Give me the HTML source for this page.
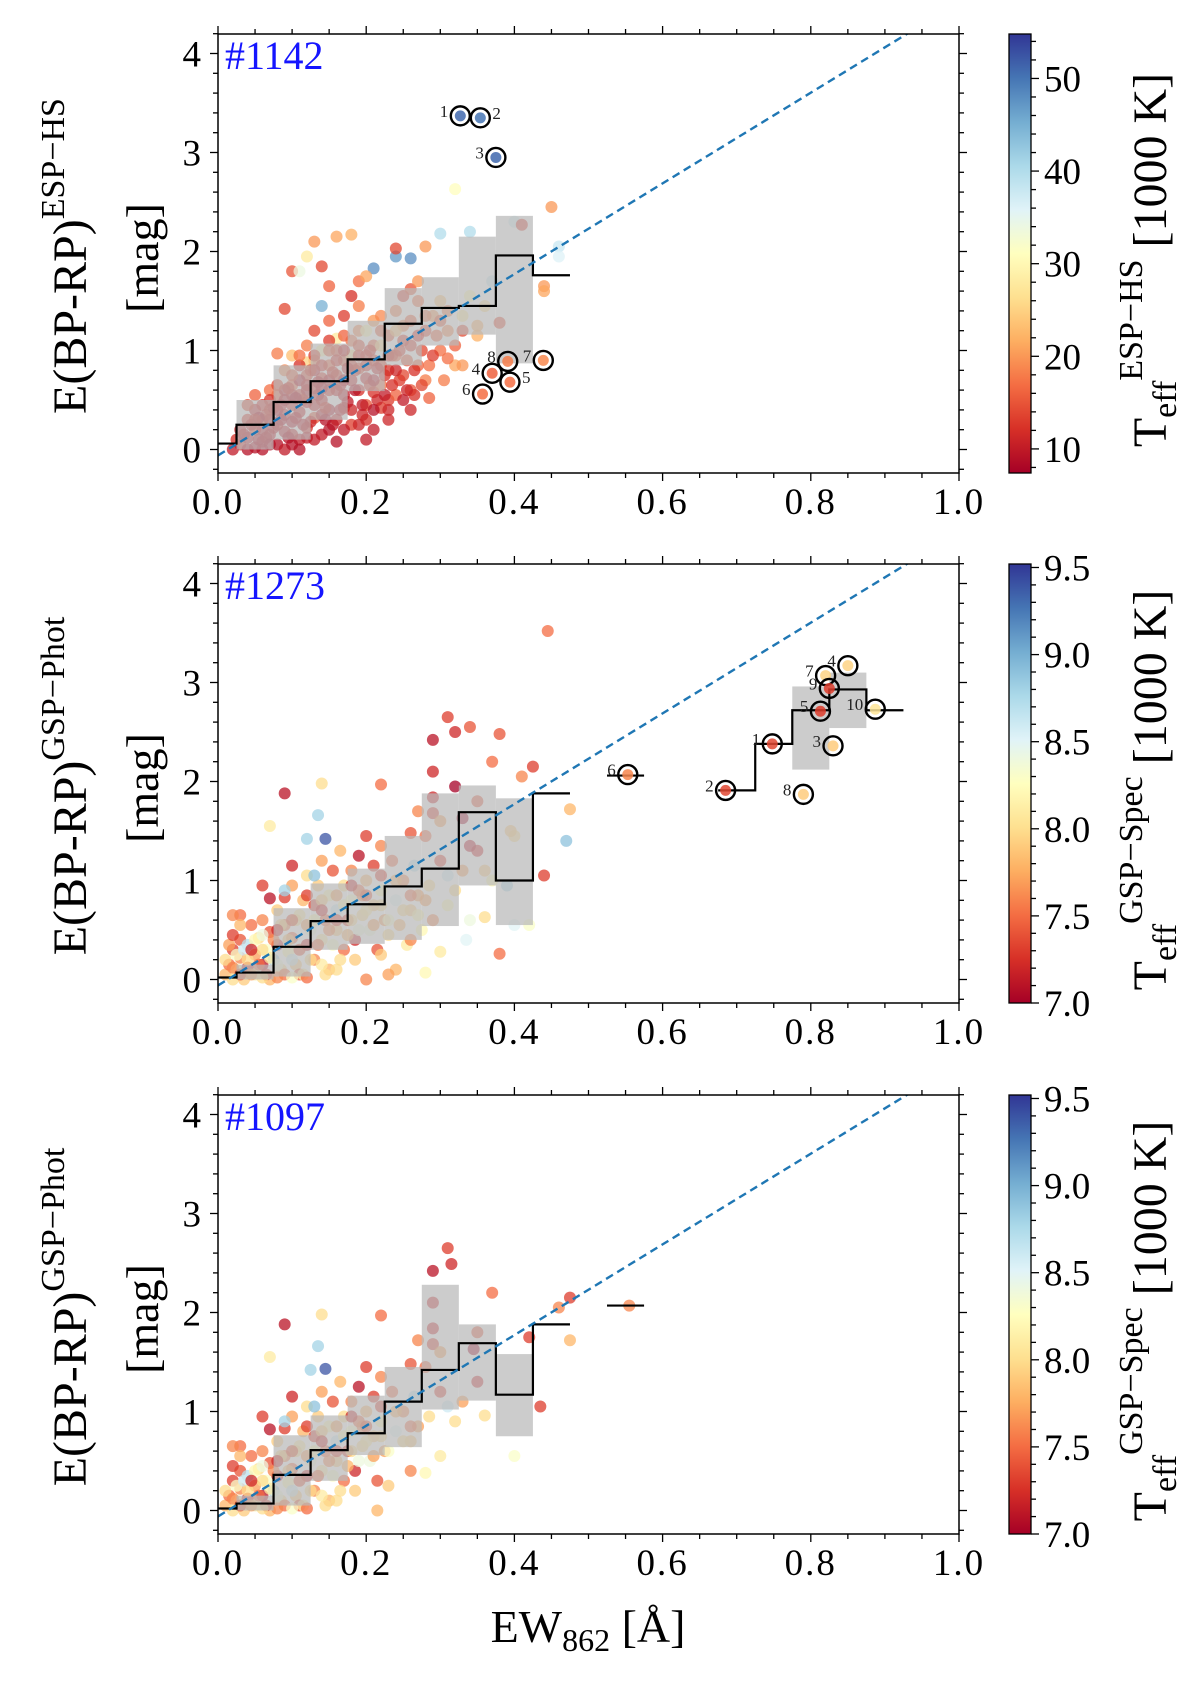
<!DOCTYPE html>
<html>
<head>
<meta charset="utf-8">
<style>
html,body{margin:0;padding:0;background:#fff;}
svg{display:block;font-family:"Liberation Serif",serif;}
</style>
</head>
<body>
<svg id="fig" width="1200" height="1681" viewBox="0 0 1200 1681" xmlns="http://www.w3.org/2000/svg">
<defs>
<linearGradient id="rdylbu" x1="0" y1="1" x2="0" y2="0">
<stop offset="0" stop-color="#a50026"/><stop offset="0.1" stop-color="#d73027"/><stop offset="0.2" stop-color="#f46d43"/><stop offset="0.3" stop-color="#fdae61"/><stop offset="0.4" stop-color="#fee090"/><stop offset="0.5" stop-color="#ffffbf"/><stop offset="0.6" stop-color="#e0f3f8"/><stop offset="0.7" stop-color="#abd9e9"/><stop offset="0.8" stop-color="#74add1"/><stop offset="0.9" stop-color="#4575b4"/><stop offset="1" stop-color="#313695"/>
</linearGradient>
</defs>
</svg>
<script>
// ---------- data ----------
const panelTops = [34, 564, 1095];
const panelTags = ["#1142", "#1273", "#1097"];
const xTicks = [0, 0.2, 0.4, 0.6, 0.8, 1.0];
const xTickLabels = ["0.0", "0.2", "0.4", "0.6", "0.8", "1.0"];
const yTicks = [0, 1, 2, 3, 4];
const yTickLabels = ["0", "1", "2", "3", "4"];
const cb1Range = [7.4, 54.8];
const cb1Ticks = [10, 20, 30, 40, 50];
const cb2Range = [7.0, 9.52];
const cb2Ticks = [7.0, 7.5, 8.0, 8.5, 9.0, 9.5];
const cb2TickLabels = ["7.0", "7.5", "8.0", "8.5", "9.0", "9.5"];
const fitIntercept = -0.06;
const fitSlope = 4.58;

const p1BinX = [0, 0.05, 0.1, 0.15, 0.2, 0.25, 0.3, 0.35, 0.4, 0.45];
const p1BinMed = [0.06, 0.25, 0.48, 0.69, 0.91, 1.27, 1.43, 1.45, 1.96, 1.76];
const p1BandX = [0.05, 0.1, 0.15, 0.2, 0.25, 0.3, 0.35, 0.4];
const p1BandLo = [0.0, 0.1, 0.3, 0.59, 0.85, 1.05, 1.16, 0.87];
const p1BandHi = [0.5, 0.85, 1.07, 1.3, 1.63, 1.74, 2.15, 2.36];

const p2BinX = [0, 0.05, 0.1, 0.15, 0.2, 0.25, 0.3, 0.35, 0.4, 0.45, 0.55, 0.7, 0.75, 0.8, 0.85, 0.9];
const p2BinMed = [0.02, 0.07, 0.33, 0.59, 0.76, 0.94, 1.12, 1.69, 1.0, 1.88, 2.06, 1.91, 2.38, 2.72, 2.93, 2.72];
const p2BandX = [0.05, 0.1, 0.15, 0.2, 0.25, 0.3, 0.35, 0.4, 0.8, 0.85];
const p2BandLo = [0.0, 0.03, 0.3, 0.36, 0.4, 0.54, 0.95, 0.55, 2.12, 2.54];
const p2BandHi = [0.15, 0.72, 0.97, 1.12, 1.45, 1.88, 1.96, 1.83, 2.96, 3.1];

const p3BinX = [0, 0.05, 0.1, 0.15, 0.2, 0.25, 0.3, 0.35, 0.4, 0.45, 0.55];
const p3BinMed = [0.02, 0.07, 0.36, 0.61, 0.78, 1.1, 1.42, 1.69, 1.17, 1.88, 2.07];
const p3BandX = [0.05, 0.1, 0.15, 0.2, 0.25, 0.3, 0.35, 0.4];
const p3BandLo = [0.0, 0.05, 0.3, 0.56, 0.64, 1.02, 1.11, 0.75];
const p3BandHi = [0.15, 0.76, 0.96, 1.16, 1.45, 2.28, 1.88, 1.58];

const p1Hx = [0.327, 0.354, 0.375, 0.37, 0.394, 0.357, 0.439, 0.391];
const p1Hy = [3.37, 3.35, 2.95, 0.77, 0.68, 0.56, 0.9, 0.89];
const p1Ht = [51, 50, 51, 16, 17, 17, 19, 18];
const p1Hlab = ["1", "2", "3", "4", "5", "6", "7", "8"];
const p1HlabSide = [-1, 1, -1, -1, 1, -1, -1, -1];

const p2Hx = [0.748, 0.685, 0.83, 0.85, 0.813, 0.553, 0.82, 0.79, 0.825, 0.887];
const p2Hy = [2.38, 1.91, 2.36, 3.17, 2.71, 2.07, 3.07, 1.87, 2.94, 2.73];
const p2Ht = [7.35, 7.35, 7.9, 7.95, 7.3, 7.6, 7.95, 7.9, 7.3, 8.05];
const p2Hlab = ["1", "2", "3", "4", "5", "6", "7", "8", "9", "10"];

const p1Points = [
[0.03,0.05,12],[0.04,0.12,10],[0.05,0.02,9],[0.05,0.2,14],[0.06,0.08,11],[0.06,0.3,16],[0.07,0.15,10],[0.07,0.4,13],[0.08,0.25,12],[0.08,0.05,9],[0.08,0.55,15],[0.09,0.35,11],[0.09,0.18,10],[0.1,0.45,12],[0.1,0.28,9],[0.1,0.65,16],[0.11,0.1,10],[0.11,0.55,13],[0.11,0.38,11],[0.12,0.75,14],[0.12,0.22,12],[0.12,0.48,10],[0.13,0.62,12],[0.13,0.32,15],[0.13,0.9,18],[0.14,0.5,11],[0.14,0.72,13],[0.14,0.15,10],[0.15,0.4,9],[0.15,0.85,16],[0.15,0.6,12],[0.16,1.0,14],[0.16,0.3,11],[0.16,0.75,13],[0.17,0.55,10],[0.17,0.9,15],[0.17,0.42,12],[0.18,0.7,11],[0.18,1.1,17],[0.18,0.25,13],[0.19,0.82,14],[0.19,0.6,12],[0.19,1.2,19],[0.2,0.95,13],[0.2,0.45,15],[0.2,0.72,11],[0.21,1.05,16],[0.21,0.58,12],[0.21,1.3,20],[0.22,0.85,14],[0.22,0.65,17],[0.23,1.15,15],[0.23,0.5,13],[0.24,1.4,18],[0.24,0.95,16],[0.25,0.75,14],[0.25,1.25,19],[0.26,1.05,13],[0.26,0.6,15],[0.27,1.5,17],[0.27,0.85,16],[0.28,1.2,14],[0.28,0.7,18],[0.29,1.35,20],[0.3,1.0,17],[0.3,1.5,24],[0.31,1.2,19],[0.32,0.85,21],[0.33,1.35,28],[0.34,1.55,30],[0.35,1.25,22],[0.36,1.45,26],[0.37,1.7,38],[0.38,1.28,14],[0.4,2.3,37],[0.41,2.27,13],[0.44,1.65,20],[0.44,1.6,21],[0.45,2.45,20],[0.46,2.05,38],[0.46,1.95,36],[0.32,2.63,31],[0.34,2.2,40],[0.3,2.18,40],[0.24,1.95,47],[0.26,1.93,48],[0.21,1.83,48],[0.14,1.45,45],[0.28,2.05,20],[0.24,2.03,14],[0.18,2.17,22],[0.16,2.15,21],[0.12,1.95,28],[0.13,2.1,20],[0.14,1.85,14],[0.1,1.8,15],[0.11,1.8,34],[0.09,1.42,14],[0.15,1.65,16],[0.19,1.7,17],[0.2,1.75,21],[0.08,0.97,18],[0.35,1.15,22],[0.33,0.85,20],[0.31,0.92,17],[0.23,0.3,11],[0.2,0.1,10],[0.16,0.08,9],[0.11,0.0,9],[0.14,0.35,10],[0.06,0.0,9],[0.04,0.3,13],[0.025,0.1,12],[0.07,0.6,17],[0.09,0.8,19],[0.1,0.95,23],[0.12,1.05,18],[0.13,1.2,14],[0.15,1.3,16],[0.17,1.35,13],[0.19,1.45,18],[0.18,1.55,12],[0.22,1.35,19],[0.25,1.55,13],[0.26,1.62,15],[0.27,1.7,20],[0.16,1.12,28],[0.14,1.0,30],[0.12,0.88,25],[0.18,0.95,27],[0.2,1.2,30],[0.22,1.05,26],[0.24,1.2,24],[0.1,0.15,11],[0.12,0.12,10],[0.18,0.4,11],[0.2,0.3,12],[0.22,0.42,13],[0.24,0.55,16],[0.26,0.4,11],[0.21,0.2,10],
[0.06,0.45,12],[0.09,0.6,10],[0.11,0.7,9],[0.13,0.45,11],[0.15,0.7,10],[0.17,0.7,9],[0.16,0.6,11],[0.14,0.62,9],[0.12,0.6,10],[0.1,0.55,11],[0.19,0.95,12],[0.21,0.9,13],[0.23,0.8,12],[0.17,1.0,11],[0.15,1.1,13],[0.13,0.8,10],[0.11,0.85,12],[0.08,0.4,9],[0.05,0.4,11],[0.07,0.3,10]
];
const p1Extra = [
[0.035,0.15,10],[0.045,0.25,11],[0.055,0.1,9],[0.065,0.35,12],[0.075,0.22,10],[0.085,0.45,11],[0.095,0.12,9],[0.105,0.32,10],[0.115,0.5,12],[0.125,0.28,11],[0.135,0.55,10],[0.145,0.42,12],[0.155,0.25,10],[0.165,0.65,11],[0.175,0.48,10],[0.185,0.8,12],[0.195,0.35,11],[0.205,0.65,13],[0.215,0.5,11],[0.225,0.75,12],[0.235,0.95,14],[0.245,0.7,13],[0.255,0.9,15],[0.265,0.55,12],[0.275,1.0,14],[0.285,0.85,17],[0.295,1.15,16],[0.305,0.7,18],[0.04,0.45,14],[0.05,0.55,16],[0.06,0.2,10],[0.07,0.5,12],[0.08,0.65,14],[0.09,0.5,10],[0.1,0.75,15],[0.11,0.95,17],[0.12,0.65,11],[0.13,0.95,13],[0.14,0.85,12],[0.15,1.0,15],[0.16,0.9,12],[0.17,1.15,16],[0.18,0.85,13],[0.19,1.05,14],[0.2,0.85,12],[0.21,0.7,10],[0.22,1.2,15],[0.23,0.95,12],[0.24,0.8,11],[0.25,1.1,13],[0.26,1.3,16],[0.27,1.15,12],[0.28,1.35,17],[0.29,0.95,13],[0.3,1.3,15],[0.31,1.4,18],[0.32,1.05,16],[0.33,1.2,14],[0.055,0.32,9],[0.065,0.12,10],[0.075,0.42,11],[0.085,0.3,9],[0.095,0.62,12],[0.105,0.52,9],[0.115,0.25,10],[0.125,0.8,13],[0.135,0.68,10],[0.145,0.3,9],[0.155,0.78,12],[0.165,0.4,10],[0.175,0.82,11],[0.185,0.6,9],[0.195,0.45,10],[0.205,1.0,12],[0.215,0.82,11],[0.225,0.55,10],[0.235,0.65,12],[0.245,1.0,13],[0.255,0.6,11],[0.265,0.8,12],[0.275,0.65,14],[0.285,0.52,16],[0.02,0.0,10],[0.03,0.2,11],[0.04,0.0,9],[0.05,0.3,12],[0.07,0.05,9],[0.09,0.0,10],[0.1,0.05,9],[0.13,0.1,10],[0.15,0.2,9],[0.17,0.2,10],[0.19,0.25,11],[0.21,0.4,9],[0.23,0.4,11],[0.25,0.5,10]
];
const p2Points = [
[0.01,0.05,7.8],[0.015,0.15,7.5],[0.02,0.0,8.0],[0.02,0.3,7.3],[0.025,0.1,8.2],[0.03,0.22,7.6],[0.03,0.4,7.4],[0.035,0.0,7.9],[0.04,0.12,7.2],[0.04,0.35,8.7],[0.045,0.55,7.5],[0.05,0.05,8.1],[0.05,0.25,7.7],[0.055,0.42,8.0],[0.06,0.15,7.1],[0.06,0.6,7.6],[0.065,0.3,8.3],[0.07,0.0,7.8],[0.07,0.48,7.4],[0.075,0.2,8.8],[0.08,0.7,7.9],[0.08,0.35,7.2],[0.085,0.1,8.0],[0.09,0.55,7.6],[0.09,0.83,7.3],[0.095,0.28,8.2],[0.1,0.42,7.5],[0.1,0.95,7.7],[0.105,0.15,7.9],[0.11,0.65,8.1],[0.11,0.05,7.4],[0.115,0.8,7.8],[0.12,0.35,7.2],[0.12,1.05,8.0],[0.125,0.5,8.4],[0.13,0.2,7.6],[0.13,0.75,7.3],[0.135,0.95,7.9],[0.14,0.4,8.1],[0.14,1.2,7.7],[0.145,0.6,7.5],[0.15,0.85,8.2],[0.15,0.1,7.8],[0.155,1.1,7.4],[0.16,0.5,7.9],[0.16,0.7,8.6],[0.165,1.3,7.8],[0.17,0.3,7.5],[0.17,0.95,8.0],[0.175,0.6,7.3],[0.18,1.1,7.6],[0.18,0.8,8.3],[0.185,0.4,7.2],[0.19,0.9,7.5],[0.19,1.25,7.1],[0.195,0.65,8.0],[0.2,0.0,7.6],[0.2,1.0,7.8],[0.205,0.5,8.4],[0.21,1.15,7.3],[0.21,0.75,7.9],[0.215,0.3,7.4],[0.22,1.35,7.6],[0.22,0.9,8.2],[0.225,0.6,7.7],[0.23,0.45,8.0],[0.235,1.2,7.5],[0.24,0.8,8.5],[0.245,0.55,7.8],[0.25,1.0,7.6],[0.255,0.35,8.1],[0.26,0.7,7.9],[0.265,1.15,8.7],[0.27,0.85,7.7],[0.275,0.5,8.2],[0.28,1.45,7.5],[0.285,0.95,8.0],[0.29,0.6,7.6],[0.3,1.2,7.3],[0.31,0.75,8.2],[0.31,1.05,8.6],[0.32,0.9,8.0],[0.33,1.1,7.7],[0.34,0.6,8.4],[0.335,0.4,8.5],[0.35,1.3,7.2],[0.36,1.1,7.9],[0.39,0.95,8.8],[0.4,1.45,8.0],[0.4,0.55,8.5],[0.47,1.4,8.9],[0.06,0.95,7.3],[0.03,0.65,7.5],[0.1,1.15,7.2],[0.13,1.05,8.9],[0.09,0.9,8.8],[0.07,0.82,7.1],[0.02,0.65,7.6],[0.015,0.35,7.7],
[0.445,3.52,7.5],[0.31,2.65,7.3],[0.32,2.5,7.2],[0.34,2.55,7.4],[0.29,2.42,7.1],[0.29,2.1,7.2],[0.38,2.48,7.4],[0.37,2.2,7.5],[0.425,2.15,7.3],[0.41,2.05,7.6],[0.32,1.95,7.0],[0.22,1.97,7.5],[0.14,1.98,8.0],[0.09,1.88,7.1],[0.135,1.66,8.8],[0.145,1.42,9.4],[0.07,1.55,8.1],[0.12,1.42,8.8],[0.475,1.72,7.8],[0.44,1.05,7.3],[0.35,1.8,7.4],[0.29,1.84,7.2],[0.29,1.68,7.3],[0.27,1.7,7.6],[0.26,1.48,7.4],[0.2,1.45,7.3],[0.3,1.6,7.7],[0.33,1.63,7.0],[0.38,0.26,7.5],[0.36,0.63,8.0],[0.42,0.55,8.3],[0.37,1.0,8.2],[0.3,0.28,8.1],[0.28,0.07,8.2],[0.26,0.4,7.6],[0.24,0.1,7.8],[0.22,0.25,7.9],[0.23,0.05,7.7],[0.34,1.35,7.1],[0.395,1.5,7.9]
];
const p2Extra = [
[0.01,0.2,8.0],[0.02,0.12,7.6],[0.025,0.25,8.3],[0.03,0.05,7.4],[0.035,0.3,8.6],[0.04,0.2,8.0],[0.045,0.05,7.7],[0.05,0.4,8.2],[0.055,0.15,7.5],[0.06,0.3,8.0],[0.065,0.05,7.3],[0.07,0.22,8.1],[0.075,0.4,7.6],[0.08,0.15,8.4],[0.085,0.55,8.0],[0.09,0.05,7.5],[0.095,0.4,7.9],[0.1,0.2,8.6],[0.105,0.6,8.0],[0.11,0.3,7.4],[0.115,0.05,8.1],[0.12,0.55,7.7],[0.125,0.2,8.0],[0.13,0.6,8.2],[0.135,0.35,7.5],[0.14,0.8,7.9],[0.145,0.05,8.0],[0.15,0.5,7.6],[0.155,0.35,8.3],[0.16,0.85,7.7],[0.165,0.2,8.0],[0.17,0.75,8.2],[0.175,0.45,7.8],[0.18,0.6,8.0],[0.185,0.2,7.9],[0.19,0.5,8.4],[0.195,0.85,7.6],[0.2,0.7,8.1],[0.21,0.55,7.7],[0.22,0.75,8.0],[0.23,0.6,8.3],[0.24,1.0,7.8],[0.25,0.7,8.0],[0.26,0.85,7.5],[0.27,0.65,8.2],[0.28,0.8,7.7],[0.02,0.45,7.3],[0.03,0.55,7.8],[0.045,0.3,7.2],[0.06,0.45,8.4],[0.08,0.5,7.2],[0.1,0.6,7.4],[0.12,0.85,7.3],[0.14,0.7,7.2],[0.16,0.6,7.3],[0.18,0.95,7.2],[0.2,0.85,7.4],[0.22,1.05,7.3],[0.06,0.02,8.0],[0.08,0.02,7.6],[0.1,0.02,8.3],[0.12,0.02,7.5],[0.14,0.15,8.1],[0.16,0.1,8.0]
];
const p3Points = [
[0.01,0.05,7.8],[0.015,0.15,7.5],[0.02,0.0,8.0],[0.02,0.3,7.3],[0.025,0.1,8.2],[0.03,0.22,7.6],[0.03,0.4,7.4],[0.035,0.0,7.9],[0.04,0.12,7.2],[0.04,0.35,8.7],[0.045,0.55,7.5],[0.05,0.05,8.1],[0.05,0.25,7.7],[0.055,0.42,8.0],[0.06,0.15,7.1],[0.06,0.6,7.6],[0.065,0.3,8.3],[0.07,0.0,7.8],[0.07,0.48,7.4],[0.075,0.2,8.8],[0.08,0.7,7.9],[0.08,0.35,7.2],[0.085,0.1,8.0],[0.09,0.55,7.6],[0.09,0.83,7.3],[0.095,0.28,8.2],[0.1,0.42,7.5],[0.1,0.95,7.7],[0.105,0.15,7.9],[0.11,0.65,8.1],[0.11,0.05,7.4],[0.115,0.8,7.8],[0.12,0.35,7.2],[0.12,1.05,8.0],[0.125,0.5,8.4],[0.13,0.2,7.6],[0.13,0.75,7.3],[0.135,0.95,7.9],[0.14,0.4,8.1],[0.14,1.2,7.7],[0.145,0.6,7.5],[0.15,0.85,8.2],[0.15,0.1,7.8],[0.155,1.1,7.4],[0.16,0.5,7.9],[0.16,0.7,8.6],[0.165,1.3,7.8],[0.17,0.3,7.5],[0.17,0.95,8.0],[0.175,0.6,7.3],[0.18,1.1,7.6],[0.18,0.8,8.3],[0.185,0.4,7.2],[0.19,0.9,7.5],[0.19,1.25,7.1],[0.195,0.65,8.0],[0.2,1.0,7.8],[0.205,0.5,8.4],[0.21,1.15,7.3],[0.21,0.75,7.9],[0.215,0.3,7.4],[0.22,1.35,7.6],[0.22,0.9,8.2],[0.225,0.6,7.7],[0.235,1.2,7.5],[0.24,0.8,8.5],[0.25,1.0,7.6],[0.26,0.7,7.9],[0.265,1.15,8.7],[0.27,0.85,7.7],[0.28,1.45,7.5],[0.285,0.95,8.0],[0.3,1.2,7.3],[0.31,1.05,8.6],[0.32,0.9,8.0],[0.33,1.1,7.7],[0.35,1.3,7.2],[0.06,0.95,7.3],[0.03,0.65,7.5],[0.1,1.15,7.2],[0.13,1.05,8.9],[0.09,0.9,8.8],[0.07,0.82,7.1],[0.02,0.65,7.6],
[0.31,2.65,7.3],[0.315,2.49,7.2],[0.29,2.42,7.1],[0.29,2.1,7.2],[0.37,2.2,7.5],[0.475,2.15,7.3],[0.46,2.05,7.6],[0.22,1.97,7.5],[0.14,1.98,8.0],[0.09,1.88,7.1],[0.135,1.66,8.8],[0.145,1.43,9.4],[0.07,1.55,8.1],[0.125,1.42,8.8],[0.475,1.72,7.8],[0.435,1.05,7.3],[0.35,1.8,7.4],[0.29,1.84,7.2],[0.29,1.68,7.3],[0.27,1.72,7.6],[0.26,1.48,7.4],[0.2,1.45,7.3],[0.3,1.6,7.7],[0.345,1.63,7.0],[0.36,0.96,8.0],[0.4,0.55,8.3],[0.3,0.55,8.1],[0.28,0.38,8.2],[0.26,0.4,7.6],[0.215,0.0,7.8],[0.23,0.25,7.9],[0.42,1.75,7.3],[0.555,2.07,7.6]
];
const p3Extra = [
[0.01,0.2,8.0],[0.02,0.12,7.6],[0.025,0.25,8.3],[0.03,0.05,7.4],[0.035,0.3,8.6],[0.04,0.2,8.0],[0.045,0.05,7.7],[0.05,0.4,8.2],[0.055,0.15,7.5],[0.06,0.3,8.0],[0.065,0.05,7.3],[0.07,0.22,8.1],[0.075,0.4,7.6],[0.08,0.15,8.4],[0.085,0.55,8.0],[0.09,0.05,7.5],[0.095,0.4,7.9],[0.1,0.2,8.6],[0.105,0.6,8.0],[0.11,0.3,7.4],[0.115,0.05,8.1],[0.12,0.55,7.7],[0.125,0.2,8.0],[0.13,0.6,8.2],[0.135,0.35,7.5],[0.14,0.8,7.9],[0.145,0.05,8.0],[0.15,0.5,7.6],[0.155,0.35,8.3],[0.16,0.85,7.7],[0.165,0.2,8.0],[0.17,0.75,8.2],[0.175,0.45,7.8],[0.18,0.6,8.0],[0.185,0.2,7.9],[0.19,0.5,8.4],[0.195,0.85,7.6],[0.2,0.7,8.1],[0.21,0.55,7.7],[0.22,0.75,8.0],[0.23,0.6,8.3],[0.24,1.0,7.8],[0.25,0.7,8.0],[0.26,0.85,7.5],[0.02,0.45,7.3],[0.03,0.55,7.8],[0.045,0.3,7.2],[0.06,0.45,8.4],[0.08,0.5,7.2],[0.1,0.6,7.4],[0.12,0.85,7.3],[0.14,0.7,7.2],[0.16,0.6,7.3],[0.18,0.95,7.2],[0.2,0.85,7.4],[0.22,1.05,7.3],[0.06,0.02,8.0],[0.08,0.02,7.6],[0.1,0.02,8.3],[0.12,0.02,7.5],[0.14,0.15,8.1],[0.16,0.1,8.0]
];

// ---------- drawing ----------
const NS = "http://www.w3.org/2000/svg";
const svg = document.getElementById("fig");
const X0 = 218, XW = 741, UNIT = 99, PH = 439;
const stops = ["#a50026","#d73027","#f46d43","#fdae61","#fee090","#ffffbf","#e0f3f8","#abd9e9","#74add1","#4575b4","#313695"];
function hex(c){return [parseInt(c.slice(1,3),16),parseInt(c.slice(3,5),16),parseInt(c.slice(5,7),16)];}
function cmap(f){
  f = Math.max(0, Math.min(1, f));
  const p = f * (stops.length - 1), i = Math.min(Math.floor(p), stops.length - 2), t = p - i;
  const a = hex(stops[i]), b = hex(stops[i + 1]);
  return "rgb(" + a.map((v, k) => Math.round(v + (b[k] - v) * t)).join(",") + ")";
}
function el(tag, attrs, parent){
  const e = document.createElementNS(NS, tag);
  for (const k in attrs) e.setAttribute(k, attrs[k]);
  (parent || svg).appendChild(e);
  return e;
}

function drawPanel(idx, pts, binX, binMed, bandX, bandLo, bandHi, hx, hy, ht, hlab, hside, cbRange, cbTicks, cbLabels, cbMinor, cbTitleSup, yTitleSup){
  const top = panelTops[idx], bottom = top + PH, y0 = top + 415.5;
  const sx = v => X0 + v * XW;
  const sy = v => y0 - v * UNIT;
  const cnorm = t => (t - cbRange[0]) / (cbRange[1] - cbRange[0]);
  const g = el("g", {});
  
  
  const clipId = "clip" + idx;
  const cp = el("clipPath", {id: clipId}, g);
  el("rect", {x: X0, y: top, width: XW, height: PH}, cp);
  const plot = el("g", {"clip-path": "url(#" + clipId + ")"}, g);
  
  

  const sg = el("g", {}, plot);
  
  
  pts.forEach(p => {
    const c = el("circle", {cx: sx(p[0]), cy: sy(p[1]), r: 6, fill: cmap(cnorm(p[2])), "fill-opacity": 0.75}, sg);
    
    
  });
  bandX.forEach((b, i) => {
    const r = el("rect", {x: sx(b - 0.025), y: sy(bandHi[i]), width: 0.05 * XW, height: (bandHi[i] - bandLo[i]) * UNIT, fill: "#b8b8b8", "fill-opacity": 0.72}, plot);
    
    
  });
  let d = "", prevEnd = null;
  binX.forEach((c, i) => {
    const a = Math.max(0, c - 0.025), b = c + 0.025;
    if (prevEnd !== null && Math.abs(prevEnd - a) < 1e-6) d += " L" + sx(a) + "," + sy(binMed[i]);
    else d += " M" + sx(a) + "," + sy(binMed[i]);
    d += " L" + sx(b) + "," + sy(binMed[i]);
    prevEnd = b;
  });
  const st = el("path", {d: d, fill: "none", stroke: "#000", "stroke-width": 2.2}, plot);
  
  
  const fl = el("line", {x1: sx(0), y1: sy(fitIntercept), x2: sx(1), y2: sy(fitIntercept + fitSlope), stroke: "#1f77b4", "stroke-width": 2.4, "stroke-dasharray": "8,5"}, plot);
  
  
  hx.forEach((x, i) => {
    const hg = el("g", {}, plot);
    
    
    el("circle", {cx: sx(x), cy: sy(hy[i]), r: 5.5, fill: cmap(cnorm(ht[i])), "fill-opacity": 0.85}, hg);
    el("circle", {cx: sx(x), cy: sy(hy[i]), r: 9.5, fill: "none", stroke: "#000", "stroke-width": 2.4}, hg);
    const side = hside ? hside[i] : -1;
    const t = el("text", {x: sx(x) + side * 12, y: sy(hy[i]) + 1, "font-size": 17, "text-anchor": side < 0 ? "end" : "start", fill: "#222"}, hg);
    t.textContent = hlab[i];
  });

  const fr = el("rect", {x: X0, y: top, width: XW, height: PH, fill: "none", stroke: "#000", "stroke-width": 1.5}, g);
  
  
  const tk = el("g", {stroke: "#000", "stroke-width": 1.3}, g);
  
  
  for (let k = 0; k <= 20; k++) {
    const v = k * 0.05, x = sx(v), L = (k % 4 === 0) ? 8 : 5;
    el("line", {x1: x, y1: bottom, x2: x, y2: bottom + L}, tk);
    el("line", {x1: x, y1: top, x2: x, y2: top - L}, tk);
  }
  for (let k = -1; k <= 21; k++) {
    const v = k * 0.2, y = sy(v);
    if (y < top - 0.5 || y > bottom + 0.5) continue;
    const L = (k % 5 === 0) ? 8 : 5;
    el("line", {x1: X0, y1: y, x2: X0 - L, y2: y}, tk);
    el("line", {x1: X0 + XW, y1: y, x2: X0 + XW + L, y2: y}, tk);
  }
  xTicks.forEach((v, i) => {
    const t = el("text", {x: sx(v), y: bottom + 41, "font-size": 37, "text-anchor": "middle", "letter-spacing": 2}, g);
    
    
    t.textContent = xTickLabels[i];
  });
  yTicks.forEach((v, i) => {
    const t = el("text", {x: 201, y: sy(v) + 13, "font-size": 37, "text-anchor": "end"}, g);
    
    
    t.textContent = yTickLabels[i];
  });
  const tag = el("text", {x: 225, y: top + 35, "font-size": 40, fill: "#1515ff"}, g);
  
  
  tag.textContent = panelTags[idx];
  const yt = el("text", {transform: "translate(86," + (top + 222) + ") rotate(-90)", "font-size": 48, "text-anchor": "middle"}, g);
  
  
  yt.appendChild(document.createTextNode("E(BP-RP)"));
  const sup = el("tspan", {dy: -22, "font-size": 34}, yt);
  sup.textContent = yTitleSup;
  const yt2 = el("text", {transform: "translate(158," + (top + 224) + ") rotate(-90)", "font-size": 46, "text-anchor": "middle"}, g);
  
  
  yt2.textContent = "[mag]";

  const cbx = 1009, cbw = 22;
  const cb = el("rect", {x: cbx, y: top, width: cbw, height: PH, fill: "url(#rdylbu)", stroke: "#000", "stroke-width": 1.3}, g);
  
  
  const cy2 = v => bottom - (v - cbRange[0]) / (cbRange[1] - cbRange[0]) * PH;
  const ctk = el("g", {stroke: "#000", "stroke-width": 1.3}, g);
  
  
  for (let v = Math.ceil(cbRange[0] / cbMinor) * cbMinor; v <= cbRange[1] + 1e-9; v += cbMinor) {
    const major = cbTicks.some(t => Math.abs(t - v) < 1e-6);
    el("line", {x1: cbx + cbw, y1: cy2(v), x2: cbx + cbw + (major ? 8 : 5), y2: cy2(v)}, ctk);
  }
  cbTicks.forEach((v, i) => {
    const t = el("text", {x: 1044, y: cy2(v) + 13, "font-size": 37}, g);
    
    
    t.textContent = cbLabels[i];
  });
  const ct = el("text", {transform: "translate(1166," + (top + 226) + ") rotate(-90)", "font-size": 48, "text-anchor": "middle"}, g);
  
  
  ct.appendChild(document.createTextNode("T"));
  const sub = el("tspan", {dy: 10, "font-size": 34}, ct);
  sub.textContent = "eff";
  const sp = el("tspan", {dy: -34, "font-size": 34}, ct);
  sp.textContent = cbTitleSup;
  const un = el("tspan", {dy: 24, "font-size": 48}, ct);
  un.textContent = " [1000 K]";
}

drawPanel(0, p1Points.concat(p1Extra), p1BinX, p1BinMed, p1BandX, p1BandLo, p1BandHi, p1Hx, p1Hy, p1Ht, p1Hlab, p1HlabSide, cb1Range, cb1Ticks, cb1Ticks.map(String), 2, "ESP\u2212HS", "ESP\u2212HS");
drawPanel(1, p2Points.concat(p2Extra), p2BinX, p2BinMed, p2BandX, p2BandLo, p2BandHi, p2Hx, p2Hy, p2Ht, p2Hlab, null, cb2Range, cb2Ticks, cb2TickLabels, 0.1, "GSP\u2212Spec", "GSP\u2212Phot");
drawPanel(2, p3Points.concat(p3Extra), p3BinX, p3BinMed, p3BandX, p3BandLo, p3BandHi, [], [], [], [], null, cb2Range, cb2Ticks, cb2TickLabels, 0.1, "GSP\u2212Spec", "GSP\u2212Phot");

const xt = el("text", {x: 588, y: 1642, "font-size": 46, "text-anchor": "middle"});


xt.appendChild(document.createTextNode("EW"));
const xs = el("tspan", {dy: 9, "font-size": 32}, xt);
xs.textContent = "862";
const xu = el("tspan", {dy: -9, "font-size": 46}, xt);
xu.textContent = " [\u00C5]";
</script>
</body>
</html>
